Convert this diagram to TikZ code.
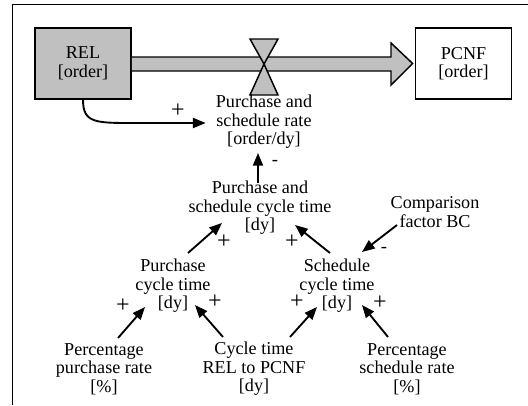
\documentclass[tikz,border=0pt]{standalone}
\usepackage{fontspec}
\setmainfont{Liberation Serif}
\usetikzlibrary{arrows.meta,calc}

\definecolor{stockgray}{HTML}{C0C0C0}

\tikzset{
  lbl/.style={align=center, inner sep=0pt, font=\fontsize{13.6}{13.9}\selectfont},
  sign/.style={inner sep=0pt, font=\fontsize{18}{18}\selectfont},
  minus/.style={inner sep=0pt, font=\fontsize{14}{14}\selectfont},
  stock/.style={draw, line width=1.3pt, minimum width=72pt, minimum height=53pt,
                align=center, inner sep=0pt, font=\fontsize{13.6}{13.9}\selectfont},
  link/.style={line width=1.4pt, -{Triangle[length=9.5pt,width=7.5pt]}},
}

\begin{document}
\begin{tikzpicture}[x=0.75pt, y=-0.75pt]
  \useasboundingbox (0,0) rectangle (528,405);

  % open frame (top and left edges)
  \draw[line width=1.2pt] (12.5,405) -- (12.5,4.5) -- (528,4.5);

  % stocks
  \node[stock, fill=stockgray] (rel) at (83,63.5) {REL\\{[}order{]}};
  \node[stock, fill=white] (pcnf) at (463.5,63.5) {PCNF\\{[}order{]}};

  % flow pipe with arrow head
  \draw[line width=1.1pt, fill=stockgray, line join=miter]
    (rel.east |- 0,57) -- (391,57) -- (391,43) -- ($(pcnf.west)+(-2,0)$)
    -- (391,85) -- (391,71) -- (rel.east |- 0,71);

  % valve
  \draw[line width=1.1pt, fill=stockgray, line join=miter]
    (250,39) -- (278,39) -- (264,64) -- cycle;
  \draw[line width=1.1pt, fill=stockgray, line join=miter]
    (264,64) -- (278,95) -- (250,95) -- cycle;

  % auxiliaries
  \node[lbl] (rate) at (264,122) {Purchase and\\schedule rate\\{[}order/dy{]}};
  \node[lbl] (psct) at (260,208) {Purchase and\\schedule cycle time\\{[}dy{]}};
  \node[lbl] (comp) at (435,212) {Comparison\\factor BC};
  \node[lbl] (pct)  at (173,286) {Purchase\\cycle time\\{[}dy{]}};
  \node[lbl] (sct)  at (337,286) {Schedule\\cycle time\\{[}dy{]}};
  \node[lbl] (ppr)  at (104,369) {Percentage\\purchase rate\\{[}\%{]}};
  \node[lbl] (ct)   at (254,369) {Cycle time\\REL to PCNF\\{[}dy{]}};
  \node[lbl] (psr)  at (407,369) {Percentage\\schedule rate\\{[}\%{]}};

  % causal links
  \draw[link] (rel.south) .. controls (83,124) and (96,123) .. (140,123)
    -- ($(rate.west)+(-10,1)$);
  \draw[link] ($(psct.center)+(-2,-25)$) -- ($(rate.center)+(-6,31)$);
  \draw[link] ($(pct.center)+(15,-33)$)  -- ($(psct.center)+(-38,15)$);
  \draw[link] ($(sct.center)+(-7,-33)$)  -- ($(psct.center)+(35,17)$);
  \draw[link] ($(comp.center)+(-38,13)$) -- ($(sct.center)+(25,-34)$);
  \draw[link] ($(ppr.center)+(14,-31)$)  -- ($(pct.center)+(-28,21)$);
  \draw[link] ($(ct.center)+(-31,-32)$)  -- ($(pct.center)+(22,19)$);
  \draw[link] ($(ct.center)+(36,-32)$)   -- ($(sct.center)+(-20,21)$);
  \draw[link] ($(psr.center)+(-19,-32)$) -- ($(sct.center)+(25,19)$);

  % polarities
  \node[sign]  (s1) at (178,111) {+};
  \node[minus] (s2) at (275,163) {-};
  \node[sign]  (s3) at (224,242) {+};
  \node[sign]  (s4) at (292,242) {+};
  \node[minus] (s5) at (384,250) {-};
  \node[sign]  (s6) at (123,306) {+};
  \node[sign]  (s7) at (215,302) {+};
  \node[sign]  (s8) at (297,302) {+};
  \node[sign]  (s9) at (380,303) {+};
\end{tikzpicture}
\end{document}
